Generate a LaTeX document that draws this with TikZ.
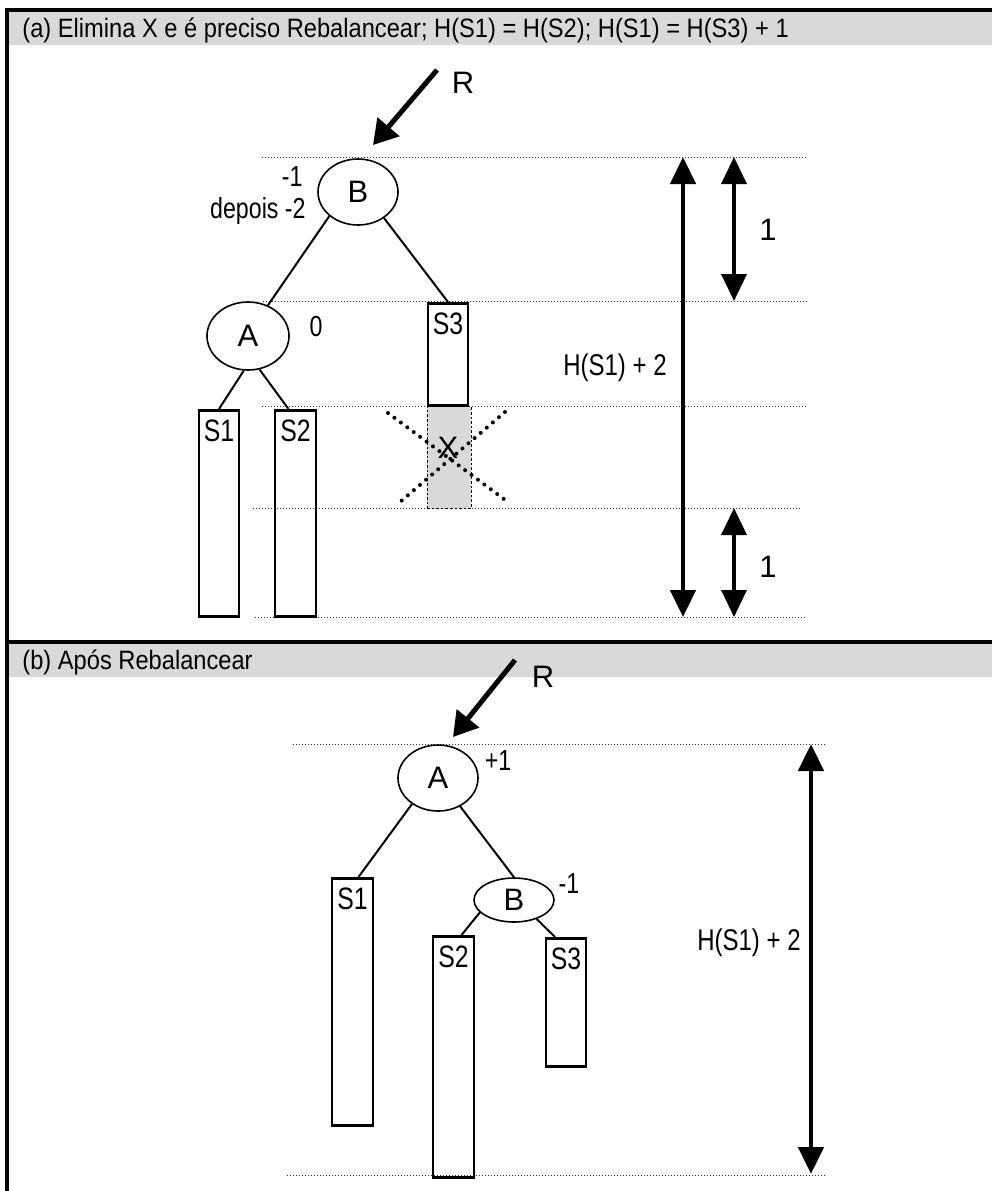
\documentclass[tikz,border=0pt]{standalone}
\usepackage{fontspec}
\setmainfont{Liberation Sans}
\newfontfamily\narrowfont[FakeStretch=0.8]{Liberation Sans}
\newfontfamily\headfont[FakeStretch=0.89]{Liberation Sans}
\usetikzlibrary{shapes.geometric}
\usetikzlibrary{arrows.meta}
\definecolor{bandgray}{RGB}{217,217,217}

\begin{document}
\begin{tikzpicture}[x=0.5pt, y=-0.5pt,
    knot/.style={ellipse, draw, line width=0.8pt, inner sep=0pt, font=\fontsize{15.5}{18}\selectfont},
    subtree/.style={rectangle, draw, line width=1.3pt, minimum width=20pt, inner sep=0pt, anchor=north},
    sname/.style={anchor=north, inner sep=5pt, font=\narrowfont\fontsize{15.5}{18}\selectfont},
    edge/.style={line width=1pt},
    level/.style={densely dotted, line width=0.5pt, black!80},
    head/.style={inner sep=0pt, font=\headfont\fontsize{13.3}{16}\selectfont},
    big/.style={inner sep=0pt, font=\fontsize{15.5}{18}\selectfont},
    small/.style={inner sep=0pt, font=\narrowfont\fontsize{14.5}{17}\selectfont},
    mid/.style={inner sep=0pt, font=\narrowfont\fontsize{15}{18}\selectfont},
    hdim/.style={line width=2.3pt, {Triangle[length=13.5pt,width=12.5pt]}-{Triangle[length=13.5pt,width=12.5pt]}},
    udim/.style={line width=1.8pt, {Triangle[length=13.5pt,width=12.5pt]}-{Triangle[length=13.5pt,width=12.5pt]}},
    rarrow/.style={line width=2.5pt, -{Triangle[length=12pt,width=14pt]}},
    cross/.style={line width=2pt, line cap=round, dash pattern=on 0pt off 4pt}]

\useasboundingbox (0,0) rectangle (992,1191);

\fill[bandgray] (9,12) rectangle (992,45);
\fill[bandgray] (9,644) rectangle (992,677);
\draw[line width=2pt] (5,10) -- (992,10);
\draw[line width=2pt] (5,642) -- (992,642);
\draw[line width=2pt] (7,8) -- (7,1191);

\node[head, anchor=base west] (capa) at (22,37) {(a) Elimina X e é preciso Rebalancear; H(S1) = H(S2); H(S1) = H(S3) + 1};
\node[head, anchor=base west] (capb) at (22,669) {(b) Após Rebalancear};

% (a)
\foreach \y/\xa/\xb in {157/262/807, 301/263/807, 406/262/807, 508/253/801, 617/255/805} {
    \draw[level] (\xa,\y) -- (\xb,\y);
}

\coordinate (rsa) at (437,70);
\coordinate (rta) at (373,145);
\draw[rarrow] (rsa) -- (rta);
\node[big] (ra) at (463,83) {R};

\node[knot, minimum width=40pt, minimum height=33pt] (ba) at (358,192) {B};
\node[knot, minimum width=41pt, minimum height=34pt] (aa) at (248,336) {A};
\node[small, anchor=east] (bfa) at (303,177) {-1};
\node[small, anchor=east] (bfb) at (306,211) {depois -2};
\node[small] (afa) at (316,327) {0};

\node[subtree, minimum height=103pt, label={[sname]north:S1}] (s1a) at (219,409) {};
\node[subtree, minimum width=20.5pt, minimum height=103pt, label={[sname]north:S2}] (s2a) at (295.5,409) {};
\node[subtree, minimum height=51pt, label={[sname]north:S3}] (s3a) at (448,302) {};
\node[subtree, fill=bandgray, densely dotted, line width=0.5pt, minimum width=22pt, minimum height=51pt] (xa) at (449,406) {};
\node[big] (xl) at (448,448) {X};
\draw[cross] (388,413) -- (508,502);
\draw[cross] (505,412) -- (400,502);

\draw[edge] (ba.220) -- (aa.57);
\draw[edge] (ba.-45) -- (s3a.north);
\draw[edge] (aa.263) -- (s1a.north);
\draw[edge] (aa.289) -- ([xshift=-3.5pt]s2a.north);

\coordinate (ha) at (683,157);
\coordinate (hb) at (683,617);
\draw[hdim] (ha) -- (hb);
\node[mid] (hla) at (615,368) {H(S1) + 2};
\coordinate (ua) at (734,157);
\coordinate (ub) at (734,301);
\draw[udim] (ua) -- (ub);
\node[big] (ula) at (768,230) {1};
\coordinate (da) at (734,508);
\coordinate (db) at (734,617);
\draw[udim] (da) -- (db);
\node[big] (dla) at (768,567) {1};

% (b)
\foreach \y/\xa in {744/293, 1175/287} {
    \draw[level] (\xa,\y) -- (827,\y);
}

\coordinate (rsb) at (515,660);
\coordinate (rtb) at (453,737);
\draw[rarrow] (rsb) -- (rtb);
\node[big] (rb) at (543,677) {R};

\node[knot, minimum width=40pt, minimum height=33pt] (ab) at (438,778) {A};
\node[knot, minimum width=40pt, minimum height=22pt] (bb) at (514,900) {B};
\node[small] (afb) at (498,761) {+1};
\node[small] (bfc) at (569,884) {-1};

\node[subtree, minimum width=20.5pt, minimum height=123.5pt, label={[sname]north:S1}] (s1b) at (352.5,877) {};
\node[subtree, minimum width=20.5pt, minimum height=120.5pt, label={[sname]north:S2}] (s2b) at (453.5,935) {};
\node[subtree, minimum height=64pt, label={[sname]north:S3}] (s3b) at (566,937) {};

\draw[edge] (ab.225) -- ([xshift=3pt]s1b.north);
\draw[edge] (ab.-52) -- (bb.north);
\draw[edge] (bb.200) -- ([xshift=4pt]s2b.north);
\draw[edge] (bb.-40) -- ([xshift=-5.5pt]s3b.north);

\coordinate (hc) at (811,744);
\coordinate (hd) at (811,1174);
\draw[hdim] (hc) -- (hd);
\node[mid] (hlb) at (749,943) {H(S1) + 2};

\end{tikzpicture}
\end{document}
